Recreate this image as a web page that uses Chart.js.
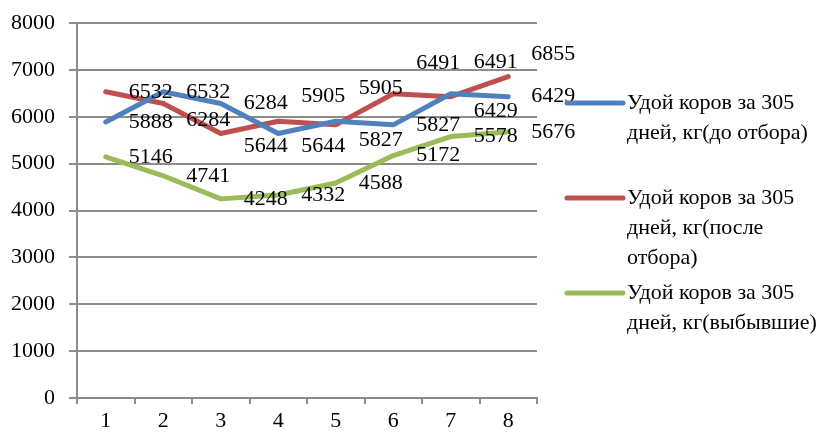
<!DOCTYPE html>
<html lang="ru">
<head>
<meta charset="utf-8">
<title>Удой коров за 305 дней</title>
<script src="https://cdn.jsdelivr.net/npm/chart.js@4"></script>
<style>
  html, body { margin: 0; padding: 0; background: #ffffff; }
  #wrap { width: 833px; height: 434px; position: relative; }
</style>
</head>
<body>
<div id="wrap"><canvas id="chart"></canvas></div>
<script>
// Categories (x axis)
const categories = ['1', '2', '3', '4', '5', '6', '7', '8'];

// Milk yield per cow over 305 days, kg
const yieldBefore = [5888, 6532, 6284, 5644, 5905, 5827, 6491, 6429];   // до отбора
const yieldAfter  = [6532, 6284, 5644, 5905, 5827, 6491, 6429, 6855];   // после отбора
const yieldCulled = [5146, 4741, 4248, 4332, 4588, 5172, 5578, 5676];   // выбывшие

// Y axis ticks
const yTicks = [0, 1000, 2000, 3000, 4000, 5000, 6000, 7000, 8000];

// Legend texts, one array of lines per series
const legendBefore = ['Удой коров за 305', 'дней, кг(до отбора)'];
const legendAfter  = ['Удой коров за 305', 'дней, кг(после', 'отбора)'];
const legendCulled = ['Удой коров за 305', 'дней, кг(выбывшие)'];

// Vertical nudges (px) for value labels so they don't collide
const nudgeBefore = [0, 0, 0, 13, -33, 0, -32, 0];
const nudgeAfter  = [0, 17, 13, -25, 15, -31, 15, -22];
const nudgeCulled = [0, 0, 0, 0, 0, 0, 0, 0];

const FONT = '"Liberation Serif", "Times New Roman", serif';
const GRID = '#8c8c8c';

const valueLabels = {
  id: 'valueLabels',
  afterDatasetsDraw(chart) {
    const ctx = chart.ctx;
    ctx.save();
    ctx.font = '22px ' + FONT;
    ctx.fillStyle = '#000000';
    ctx.textAlign = 'left';
    ctx.textBaseline = 'middle';
    chart.data.datasets.forEach((ds, di) => {
      const meta = chart.getDatasetMeta(di);
      meta.data.forEach((pt, i) => {
        const dy = ds.labelNudge ? ds.labelNudge[i] : 0;
        ctx.fillText(String(ds.data[i]), pt.x + 23, pt.y + dy);
      });
    });
    ctx.restore();
  }
};

const sideLegend = {
  id: 'sideLegend',
  afterDraw(chart) {
    const ctx = chart.ctx;
    const x0 = chart.chartArea.right + 30;
    const slot = 95, lineH = 30;
    let y = 103;
    ctx.save();
    ctx.font = '22px ' + FONT;
    ctx.textAlign = 'left';
    ctx.textBaseline = 'middle';
    chart.data.datasets.forEach(ds => {
      ctx.strokeStyle = ds.borderColor;
      ctx.lineWidth = 5;
      ctx.lineCap = 'round';
      ctx.beginPath();
      ctx.moveTo(x0, y);
      ctx.lineTo(x0 + 56, y);
      ctx.stroke();
      ctx.fillStyle = '#000000';
      ds.legendLines.forEach((t, k) => ctx.fillText(t, x0 + 60, y + k * lineH));
      y += slot;
    });
    ctx.restore();
  }
};

new Chart(document.getElementById('chart'), {
  type: 'line',
  data: {
    labels: categories,
    datasets: [
      { label: legendBefore.join(' '), legendLines: legendBefore, data: yieldBefore,
        borderColor: '#4F81BD', labelNudge: nudgeBefore },
      { label: legendAfter.join(' '), legendLines: legendAfter, data: yieldAfter,
        borderColor: '#C0504D', labelNudge: nudgeAfter },
      { label: legendCulled.join(' '), legendLines: legendCulled, data: yieldCulled,
        borderColor: '#9BBB59', labelNudge: nudgeCulled }
    ].map(d => Object.assign(d, {
      borderWidth: 5, pointRadius: 0, pointHoverRadius: 0, tension: 0,
      fill: false, borderJoinStyle: 'round', borderCapStyle: 'round'
    }))
  },
  options: {
    responsive: true,
    maintainAspectRatio: false,
    animation: false,
    events: [],
    layout: { padding: { top: 23, right: 296, bottom: 0, left: 0 } },
    plugins: { legend: { display: false }, tooltip: { enabled: false } },
    scales: {
      x: {
        type: 'category',
        offset: true,
        grid: { offset: true, drawOnChartArea: false, tickLength: 6, color: GRID, lineWidth: 2 },
        border: { display: true, color: GRID, width: 2 },
        ticks: { font: { family: FONT, size: 22 }, color: '#000000', padding: 4, maxRotation: 0 },
        afterFit(scale) { scale.height = 36; }
      },
      y: {
        min: yTicks[0],
        max: yTicks[yTicks.length - 1],
        afterBuildTicks(scale) { scale.ticks = yTicks.map(v => ({ value: v })); },
        grid: { color: GRID, lineWidth: 2, tickLength: 8 },
        border: { display: true, color: GRID, width: 2 },
        ticks: { font: { family: FONT, size: 22 }, color: '#000000', padding: 14,
                 callback: v => String(v) },
        afterFit(scale) { scale.width = 77; scale.paddingTop = 0; scale.paddingBottom = 0; }
      }
    }
  },
  plugins: [valueLabels, sideLegend]
});
</script>
</body>
</html>
